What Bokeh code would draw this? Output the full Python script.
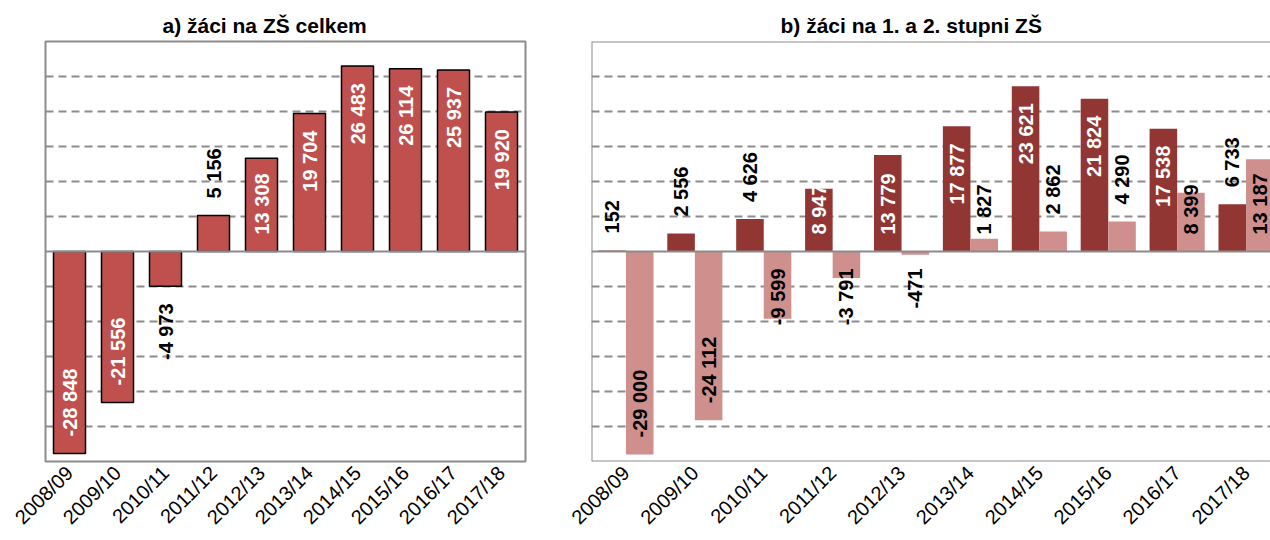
import math
from bokeh.plotting import figure
from bokeh.layouts import row
from bokeh.models import Range1d, FixedTicker, Span, ColumnDataSource
from bokeh.core.properties import value
from bokeh.embed import file_html
from bokeh.resources import INLINE

# ---------------- data ----------------
years = ["2008/09", "2009/10", "2010/11", "2011/12", "2012/13",
         "2013/14", "2014/15", "2015/16", "2016/17", "2017/18"]
total = [-28848, -21556, -4973, 5156, 13308, 19704, 26483, 26114, 25937, 19920]
stage_a = [152, 2556, 4626, 8947, 13779, 17877, 23621, 21824, 17538, 6733]
stage_b = [-29000, -24112, -9599, -3791, -471, 1827, 2862, 4290, 8399, 13187]

title_a = "a) žáci na ZŠ celkem"
title_b = "b) žáci na 1. a 2. stupni ZŠ"

# label placement modes (style): end = inside end, base = inside base, out = outside end
total_modes = ["end", "end", "out", "out", "base", "end", "end", "end", "end", "end"]
stage_a_modes = ["out", "out", "out", "base", "base", "end", "end", "end", "end", "out"]
stage_b_modes = ["end", "end", "base", "base", "base", "base", "out", "out", "base", "base"]

# ---------------- style ----------------
FONT = "Liberation Sans"
C_TOTAL = "#BF504D"
C_DARK = "#923634"
C_LIGHT = "#CE8F8D"
GRID = "#8C8C8C"
YLIM = 30000
YSTEP = 5000
PAD = 17
H = 540
TOP = 41
FRAME_H = 420


def fmt(v):
    return f"{v:,}".replace(",", " ")


def label_source(xs, vals, modes, inside_color, outside_color):
    ys, aligns, offs, cols, txt = [], [], [], [], []
    for x, v, m in zip(xs, vals, modes):
        pos = v >= 0
        if m == "end":
            ys.append(v)
            aligns.append("right" if pos else "left")
            offs.append(PAD if pos else -PAD)
            cols.append(inside_color)
        elif m == "base":
            ys.append(0)
            aligns.append("left" if pos else "right")
            offs.append(-PAD if pos else PAD)
            cols.append(inside_color)
        else:
            ys.append(v)
            aligns.append("left" if pos else "right")
            offs.append(-PAD if pos else PAD)
            cols.append(outside_color)
        txt.append(fmt(v))
    return ColumnDataSource(dict(x=list(xs), y=ys, align=aligns, yoff=offs,
                                 color=cols, text=txt))


def base_fig(width, x_end, min_left, min_right, title, title_offset):
    p = figure(width=width, height=H,
               x_range=Range1d(-0.5, x_end), y_range=Range1d(-YLIM, YLIM),
               output_backend="svg", toolbar_location=None,
               min_border_left=min_left, min_border_right=min_right,
               min_border_top=TOP, min_border_bottom=H - TOP - FRAME_H)
    p.title.text = title
    p.title.text_font = FONT
    p.title.text_font_size = "21px"
    p.title.text_font_style = "bold"
    p.title.text_color = "black"
    p.title.align = "left"
    p.title.offset = title_offset
    p.title.standoff = 9
    p.yaxis.visible = False
    p.xgrid.visible = False
    p.ygrid.ticker = FixedTicker(ticks=[t for t in range(-YLIM + YSTEP, YLIM, YSTEP) if t != 0])
    p.ygrid.grid_line_color = GRID
    p.ygrid.grid_line_width = 2
    p.ygrid.grid_line_dash = "8 5"
    p.xaxis.ticker = FixedTicker(ticks=list(range(len(years))))
    p.xaxis.major_label_overrides = {i: y for i, y in enumerate(years)}
    p.xaxis.major_label_orientation = math.pi / 4
    p.xaxis.major_label_text_font = FONT
    p.xaxis.major_label_text_font_size = "20px"
    p.xaxis.major_label_text_color = "black"
    p.xaxis.major_label_standoff = 8
    p.xaxis.major_tick_line_color = None
    p.xaxis.major_tick_out = 0
    p.xaxis.major_tick_in = 0
    p.xaxis.minor_tick_line_color = None
    p.xaxis.minor_tick_out = 0
    p.xaxis.axis_line_color = None
    p.background_fill_color = "white"
    p.border_fill_color = "white"
    p.add_layout(Span(location=0, dimension="width", line_color=GRID, line_width=2))
    return p


def add_labels(p, src):
    p.text(x="x", y="y", text="text", source=src, angle=math.pi / 2,
           text_align="align", text_baseline="middle", y_offset="yoff",
           text_color="color", text_font=value(FONT), text_font_size="20px",
           text_font_style="bold")


idx = list(range(len(years)))

# ---------- left chart ----------
p1 = base_fig(540, len(years) - 0.5, 45, 15, title_a, 117)
p1.outline_line_color = GRID
p1.outline_line_width = 2
p1.vbar(x=idx, top=total, width=0.667, fill_color=C_TOTAL,
        line_color="black", line_width=1.5)
add_labels(p1, label_source(idx, total, total_modes, "white", "black"))

# ---------- right chart ----------
CAT_PX = 68.9
right_w = 730
right_frame = right_w - 51
p2 = base_fig(right_w, -0.5 + right_frame / CAT_PX, 51, 0, title_b, 189)
p2.outline_line_color = None
for loc, dim in [(-0.5, "height"), (YLIM, "width"), (-YLIM, "width")]:
    p2.add_layout(Span(location=loc, dimension=dim, line_color=GRID, line_width=2))
xa = [i - 0.2 for i in idx]
xb = [i + 0.2 for i in idx]
p2.vbar(x=xa, top=stage_a, width=0.4, fill_color=C_DARK, line_color=None)
p2.vbar(x=xb, top=stage_b, width=0.4, fill_color=C_LIGHT, line_color=None)
add_labels(p2, label_source(xa, stage_a, stage_a_modes, "white", "black"))
add_labels(p2, label_source(xb, stage_b, stage_b_modes, "black", "black"))

layout = row(p1, p2, spacing=0)
open("out.html", "w").write(file_html(layout, INLINE))
